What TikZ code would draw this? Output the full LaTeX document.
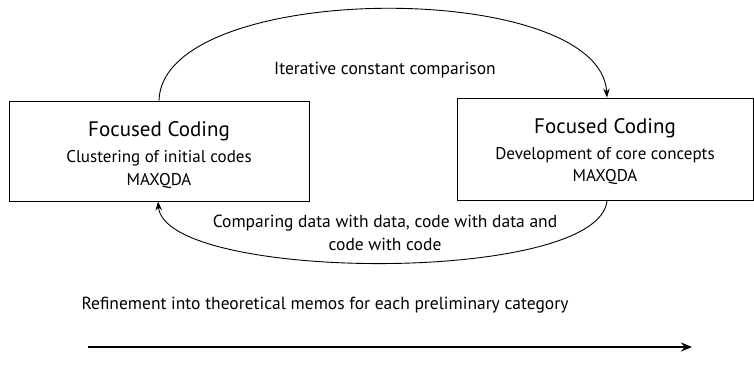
\documentclass[tikz,border=0pt]{standalone}
\usepackage{fontspec}
\setmainfont{PT Sans}
\usetikzlibrary{arrows.meta}
\tikzset{
  box/.style={draw, line width=0.9pt, rectangle, inner sep=0pt},
  lbl/.style={align=center, inner sep=0pt, font=\fontsize{17.5}{23}\selectfont},
  title/.style={inner sep=0pt, font=\fontsize{21}{24}\selectfont},
  sub/.style={inner sep=0pt, font=\fontsize{17}{20}\selectfont},
  arc/.style={line width=0.9pt, -{Stealth[length=9pt,width=6.5pt]}},
}
\begin{document}
\begin{tikzpicture}[x=1pt,y=-1pt]
\useasboundingbox (0,0) rectangle (754,364);
\node[box, minimum width=300pt, minimum height=100pt] (L) at (159,151) {};
\node[box, minimum width=296pt, minimum height=102pt] (R) at (605,149) {};
\node[title] (Lt) at (159,131) {Focused Coding};
\node[sub] (Ls) at (159,158) {Clustering of initial codes};
\node[sub] (Lm) at (159,181) {MAXQDA};
\node[title] (Rt) at (605,128) {Focused Coding};
\node[sub] (Rs) at (605,155) {Development of core concepts};
\node[sub] (Rm) at (605,177) {MAXQDA};
\node[lbl] (top) at (385,70) {Iterative constant comparison};
\node[lbl] (bot) at (385,233) {Comparing data with data, code with data and\\code with code};
\node[lbl] (ref) at (325,305) {Refinement into theoretical memos for each preliminary category};
\draw[arc] (L.north) .. controls (162,-20) and (600,-22) .. (R.north -| 607,0);
\draw[arc] (R.south -| 607,0) .. controls (600,285) and (165,282) .. (L.south -| 158,0);
\coordinate (a1) at (88,347);
\coordinate (a2) at (692,347);
\draw[line width=2.4pt, -{Stealth[length=11pt,width=9pt]}] (a1) -- (a2);
\end{tikzpicture}
\end{document}
